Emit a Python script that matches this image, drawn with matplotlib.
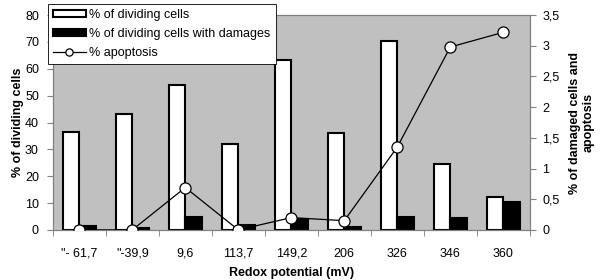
import matplotlib
matplotlib.use("Agg")
import matplotlib.pyplot as plt
import numpy as np

categories = ['"- 61,7', '"-39,9', '9,6', '113,7', '149,2', '206', '326', '346', '360']
dividing = [36.5, 43.1, 54.0, 31.9, 63.2, 36.0, 70.3, 24.5, 12.2]
damaged = [0.065, 0.03, 0.21, 0.08, 0.18, 0.04, 0.21, 0.19, 0.46]
apoptosis = [0.0, 0.0, 0.69, 0.0, 0.2, 0.15, 1.35, 2.98, 3.22]
left_ticks = [0, 10, 20, 30, 40, 50, 60, 70, 80]
right_ticks = [0, 0.5, 1, 1.5, 2, 2.5, 3, 3.5]
right_labels = ["0", "0,5", "1", "1,5", "2", "2,5", "3", "3,5"]

plt.rcParams['font.family'] = ['Liberation Sans', 'DejaVu Sans']

fig = plt.figure(figsize=(6, 2.8), dpi=100)
ax = fig.add_axes([0.088, 0.179, 0.795, 0.767])
ax2 = ax.twinx()

x = np.arange(len(categories))
w = 0.31
spine_c = '#808080'

ax.set_facecolor('#c0c0c0')
b1 = ax.bar(x - w / 2, dividing, width=w, color='white', edgecolor='black', linewidth=1.5, zorder=2)
b2 = ax2.bar(x + w / 2, damaged, width=w, color='black', edgecolor='black', linewidth=1.5, zorder=2)
l1, = ax2.plot(x, apoptosis, color='black', linewidth=0.9, marker='o', markersize=8,
               markerfacecolor='white', markeredgecolor='black', markeredgewidth=0.9, zorder=3)

ax.set_xlim(-0.5, len(categories) - 0.5)
ax.set_ylim(0, 80)
ax2.set_ylim(0, 3.5)
ax.set_yticks(left_ticks)
ax2.set_yticks(right_ticks)
ax2.set_yticklabels(right_labels)
ax.set_xticks(x)
ax.set_xticklabels(categories)
ax.set_xticks(np.arange(-0.5, len(categories)), minor=True)
ax.tick_params(axis='x', which='major', length=0, labelsize=9, pad=13)
ax.tick_params(axis='x', which='minor', length=4, color=spine_c, direction='out')
ax.tick_params(axis='y', length=4, color=spine_c, labelsize=9, direction='out', pad=6)
ax2.tick_params(axis='y', length=4, color=spine_c, labelsize=9, direction='out', pad=5)

for a in (ax, ax2):
    for s in a.spines.values():
        s.set_color(spine_c)
        s.set_linewidth(0.8)

ax.set_xlabel('Redox potential (mV)', fontweight='bold', fontsize=9, labelpad=5)
ax.set_ylabel('% of dividing cells', fontweight='bold', fontsize=9, labelpad=1)
ax2.set_ylabel('% of damaged cells and\napoptosis', fontweight='bold', fontsize=9, labelpad=7)

leg = fig.legend([b1, b2, l1],
                 ['% of dividing cells', '% of dividing cells with damages', '% apoptosis'],
                 loc='upper left', bbox_to_anchor=(0.08, 0.986), borderaxespad=0, fontsize=9,
                 frameon=True, fancybox=False, edgecolor='black', framealpha=1,
                 handlelength=2.6, handleheight=0.5, borderpad=0.4, labelspacing=0.55,
                 handletextpad=0.3, markerscale=0.65)
leg.get_frame().set_linewidth(0.6)
ax2.set_zorder(ax.get_zorder() + 1)
ax2.patch.set_visible(False)

fig.savefig('out.png', dpi=100)
